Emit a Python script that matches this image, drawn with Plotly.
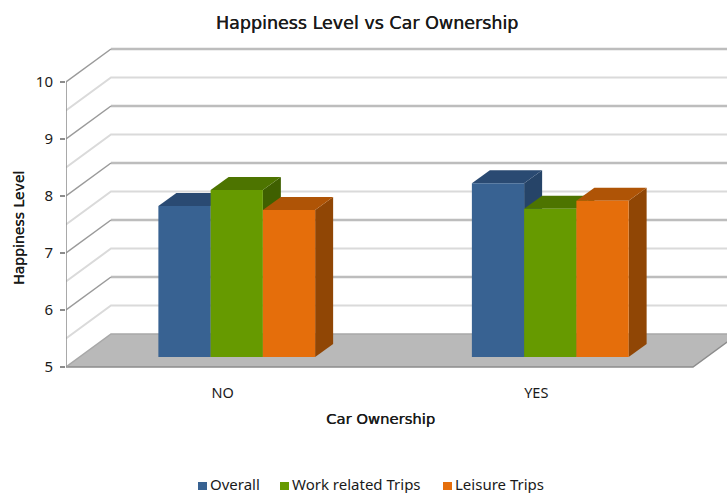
import plotly.graph_objects as go

# chart data
categories = ["NO", "YES"]
overall = [7.65, 8.05]
work_trips = [7.93, 7.6]
leisure_trips = [7.58, 7.74]
series_names = ["Overall", "Work related Trips", "Leisure Trips"]
major_ticks = [5, 6, 7, 8, 9, 10]
minor_ticks = [5.5, 6.5, 7.5, 8.5, 9.5]

front_colors = ["#386292", "#669A00", "#E56E0B"]
top_colors = ["#2A4A72", "#4D7400", "#AF5406"]
side_colors = ["#264468", "#3F6000", "#904605"]

FONT = "DejaVu Sans"
TEXT = "#1A1A1A"
FAUX_BOLD = "0.4px 0 0 #1A1A1A"

# pixels per axis unit, everything below is worked out from these
XU = 313.5
YU = 57.0
WALL_DX, WALL_DY = 45 / XU, 33 / YU
BAR_DX, BAR_DY = 14 / XU, 10 / YU
DEPTH_DX, DEPTH_DY = 18 / XU, 13 / YU
BAR_W = 1 / 6

x_lo = -0.5
x_hi = x_lo + 661 / XU
y_lo = 5 - 3 / YU
y_hi = 5 + 326 / YU
floor_right = 1.5


def path(points):
    return "M " + " L ".join(f"{x:.4f} {y:.4f}" for x, y in points) + " Z"


def open_path(points):
    return "M " + " L ".join(f"{x:.4f} {y:.4f}" for x, y in points)


shapes = []

# floor
shapes.append(dict(type="path",
                   path=path([(x_lo, 5), (x_lo + WALL_DX, 5 + WALL_DY),
                              (floor_right + WALL_DX, 5 + WALL_DY), (floor_right, 5)]),
                   fillcolor="#B9B9B9", line=dict(width=0)))
shapes.append(dict(type="path",
                   path=open_path([(x_lo, 5), (floor_right, 5), (floor_right + WALL_DX, 5 + WALL_DY)]),
                   line=dict(color="#8C8C8C", width=1.5)))
shapes.append(dict(type="path",
                   path=open_path([(x_lo, 5), (x_lo + WALL_DX, 5 + WALL_DY), (x_hi + 1, 5 + WALL_DY)]),
                   line=dict(color="#A8A8A8", width=1.5)))

# wall grid, side line then back line
for v in minor_ticks:
    shapes.append(dict(type="path",
                       path=open_path([(x_lo, v), (x_lo + WALL_DX, v + WALL_DY), (x_hi + 1, v + WALL_DY)]),
                       line=dict(color="#DADADA", width=2)))
for v in major_ticks[1:]:
    shapes.append(dict(type="line", x0=x_lo + WALL_DX, x1=x_hi + 1,
                       y0=v + WALL_DY, y1=v + WALL_DY, line=dict(color="#BDBDBD", width=2.5)))
    shapes.append(dict(type="line", x0=x_lo, x1=x_lo + WALL_DX,
                       y0=v, y1=v + WALL_DY, line=dict(color="#9A9A9A", width=1.5)))

# left axis line
shapes.append(dict(type="line", x0=x_lo, x1=x_lo, y0=5, y1=10,
                   line=dict(color="#8C8C8C", width=1.5)))

# side and top faces of the columns, in front of the wall and behind the front faces
all_series = [overall, work_trips, leisure_trips]
for c in range(len(categories)):
    left = c - 1.5 * BAR_W + BAR_DX
    for s, values in enumerate(all_series):
        x0 = left + s * BAR_W
        x1 = x0 + BAR_W
        top = values[c] + BAR_DY
        bottom = 5 + BAR_DY
        shapes.append(dict(type="path",
                           path=path([(x1, bottom), (x1 + DEPTH_DX, bottom + DEPTH_DY),
                                      (x1 + DEPTH_DX, top + DEPTH_DY), (x1, top)]),
                           fillcolor=side_colors[s], line=dict(width=0)))
        shapes.append(dict(type="path",
                           path=path([(x0, top), (x0 + DEPTH_DX, top + DEPTH_DY),
                                      (x1 + DEPTH_DX, top + DEPTH_DY), (x1, top)]),
                           fillcolor=top_colors[s], line=dict(width=0)))

for shape in shapes:
    shape.update(xref="x", yref="y", layer="below")

# legend sits right at the page bottom in the original, so it is placed by hand
W, H = 727, 493
legend_swatch_px = [198, 280, 443]
annotations = []
for s, name in enumerate(series_names):
    sx = legend_swatch_px[s]
    shapes.append(dict(type="rect", xref="paper", yref="paper", xsizemode="pixel", ysizemode="pixel",
                       xanchor=(sx - 66) / 661, yanchor=(370 - 486) / 329,
                       x0=0, x1=9, y0=-4, y1=4, fillcolor=front_colors[s], line=dict(width=0)))
    annotations.append(dict(text=name, xref="paper", yref="paper", showarrow=False, borderpad=0,
                            x=(sx + 11 - 66) / 661, xanchor="left",
                            y=(370 - 483.5) / 329, yanchor="middle",
                            font=dict(size=15, family="Noto Sans", color=TEXT)))

annotations.append(dict(text="Car Ownership", xref="paper", yref="paper", showarrow=False,
                        x=(380 - 66) / 661, y=(370 - 418) / 329, xanchor="center", yanchor="middle",
                        font=dict(size=14.8, family=FONT, color=TEXT, shadow=FAUX_BOLD)))
annotations.append(dict(text="Happiness Level", xref="paper", yref="paper", showarrow=False, textangle=-90,
                        x=(19 - 66) / 661, y=(370 - 228) / 329, xanchor="center", yanchor="middle",
                        font=dict(size=14, family=FONT, color=TEXT, shadow=FAUX_BOLD)))

fig = go.Figure()
# empty trace so the primary axes with the tick labels are drawn
fig.add_trace(go.Scatter(x=[0, 1], y=[None, None], mode="lines", showlegend=False, hoverinfo="skip"))
for s, values in enumerate(all_series):
    fig.add_trace(go.Bar(x=[0, 1], y=[v - 5 for v in values], base=5,
                         name=series_names[s], marker=dict(color=front_colors[s], line=dict(width=0)),
                         xaxis="x2", yaxis="y2", hoverinfo="skip", showlegend=False))

fig.update_layout(
    width=W, height=H,
    margin=dict(l=66, r=0, t=41, b=123),
    paper_bgcolor="white", plot_bgcolor="white",
    font=dict(family="Noto Sans", size=14, color=TEXT),
    title=dict(text="Happiness Level vs Car Ownership",
               font=dict(size=17.5, family=FONT, color=TEXT, shadow=FAUX_BOLD),
               x=367 / W, xanchor="center", y=1 - 23 / H, yanchor="middle"),
    barmode="group", bargap=0.5, bargroupgap=0,
    shapes=shapes,
    annotations=annotations,
    xaxis=dict(range=[x_lo, x_hi], tickvals=[0, 1], ticktext=categories, showgrid=False,
               zeroline=False, showline=False, ticks="", ticklabelstandoff=12,
               tickfont=dict(size=14.5)),
    yaxis=dict(range=[y_lo, y_hi], tickvals=major_ticks, showgrid=False, zeroline=False,
               showline=False, ticks="outside", ticklen=5, tickwidth=1.5, tickcolor="#8C8C8C",
               ticklabelstandoff=4, tickfont=dict(size=15)),
    xaxis2=dict(range=[x_lo - BAR_DX, x_hi - BAR_DX], overlaying="x", visible=False),
    yaxis2=dict(range=[y_lo - BAR_DY, y_hi - BAR_DY], overlaying="y", visible=False),
)

fig.write_html("out.html", config=dict(displayModeBar=False),
               post_script="document.body.style.margin='0';")
